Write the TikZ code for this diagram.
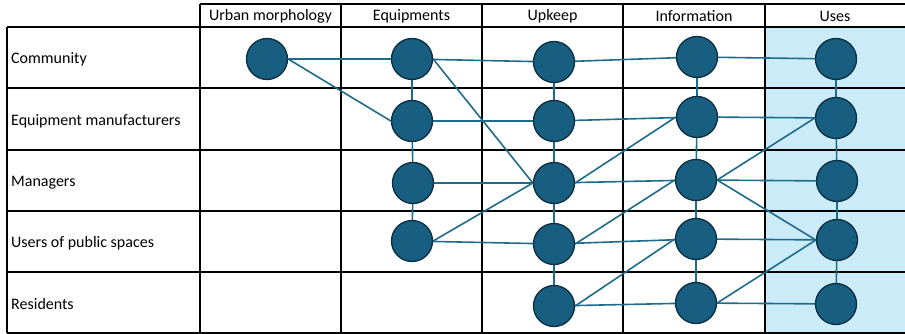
\documentclass[tikz,border=0pt]{standalone}
\usepackage{fontspec}
\setmainfont{Carlito}
\usetikzlibrary{backgrounds}
\definecolor{nodefill}{HTML}{175E80}
\definecolor{nodeline}{HTML}{0B2E40}
\definecolor{edgecol}{HTML}{1E6B8C}
\definecolor{usesbg}{HTML}{CBEBF9}
\tikzset{
  actor/.style={circle, fill=nodefill, draw=nodeline, line width=1.3pt, minimum size=41pt, inner sep=0pt},
  link/.style={draw=edgecol, line width=1.6pt},
  grid/.style={draw=black, line width=1.6pt},
  head/.style={font=\fontsize{16}{18}\selectfont, anchor=center},
  rowlab/.style={font=\fontsize{16}{18}\selectfont, anchor=west, inner sep=0pt},
}
\begin{document}
\begin{tikzpicture}[x=1pt,y=-1pt]
\useasboundingbox (0,0) rectangle (905,334);
% headers
\node[head] (h1) at (270.5,16.5) {Urban morphology};
\node[head] (h2) at (411.5,16.5) {Equipments};
\node[head] (h3) at (552.5,16.5) {Upkeep};
\node[head] (h4) at (694,16.5) {Information};
\node[head] (h5) at (835,16.5) {Uses};
% row labels
\node[rowlab] (r1) at (11,59.5) {Community};
\node[rowlab] (r2) at (11,121) {Equipment manufacturers};
\node[rowlab] (r3) at (11,182.5) {Managers};
\node[rowlab] (r4) at (11,243.5) {Users of public spaces};
\node[rowlab] (r5) at (11,304.5) {Residents};
% nodes
\node[actor] (umc) at (267,59) {};
\node[actor] (eqc) at (412,59) {};
\node[actor] (eqe) at (412,121) {};
\node[actor] (eqm) at (413,183) {};
\node[actor] (equ) at (412,241) {};
\node[actor] (upc) at (554,62) {};
\node[actor] (upe) at (554,121) {};
\node[actor] (upm) at (554,183) {};
\node[actor] (upu) at (554,244) {};
\node[actor] (upr) at (554,306) {};
\node[actor] (inc) at (697,57) {};
\node[actor] (ine) at (697,117) {};
\node[actor] (inm) at (696,180) {};
\node[actor] (inu) at (696,239) {};
\node[actor] (inr) at (696,303) {};
\node[actor] (usc) at (836,59) {};
\node[actor] (use) at (836,118) {};
\node[actor] (usm) at (837,181) {};
\node[actor] (usu) at (837,240) {};
\node[actor] (usr) at (836,304) {};
\begin{scope}[on background layer]
% Uses background
\fill[usesbg] (765,27) rectangle (905,333);
% grid
\draw[grid] (200,4) -- (905,4);
\draw[grid] (7,27) -- (905,27);
\foreach \yy in {88,150,211,272,333} \draw[grid] (7,\yy) -- (905,\yy);
\draw[grid] (7,27) -- (7,333);
\foreach \xx in {200,341,482,623,765} \draw[grid] (\xx,4) -- (\xx,333);
% horizontals
\draw[link] (umc) -- (eqc);
\draw[link] (eqc) -- (upc) -- (inc) -- (usc);
\draw[link] (eqe) -- (upe) -- (ine) -- (use);
\draw[link] (eqm) -- (upm) -- (inm) -- (usm);
\draw[link] (equ) -- (upu) -- (inu) -- (usu);
\draw[link] (upr) -- (inr) -- (usr);
% verticals
\draw[link] (eqc) -- (eqe) -- (eqm) -- (equ);
\draw[link] (upc) -- (upe) -- (upm) -- (upu) -- (upr);
\draw[link] (inc) -- (ine) -- (inm) -- (inu) -- (inr);
\draw[link] (usc) -- (use) -- (usm) -- (usu) -- (usr);
% diagonals
\draw[link] (umc.east) -- (eqe.west);
\draw[link] (eqc.east) -- (upm.west);
\draw[link] (equ.east) -- (upm.west);
\draw[link] (upm.east) -- (ine.west);
\draw[link] (upu.east) -- (inm.west);
\draw[link] (upr.east) -- (inu.west);
\draw[link] (inm.east) -- (use.west);
\draw[link] (inm.east) -- (usu.west);
\draw[link] (inr.east) -- (usu.west);
\end{scope}
\end{tikzpicture}
\end{document}
